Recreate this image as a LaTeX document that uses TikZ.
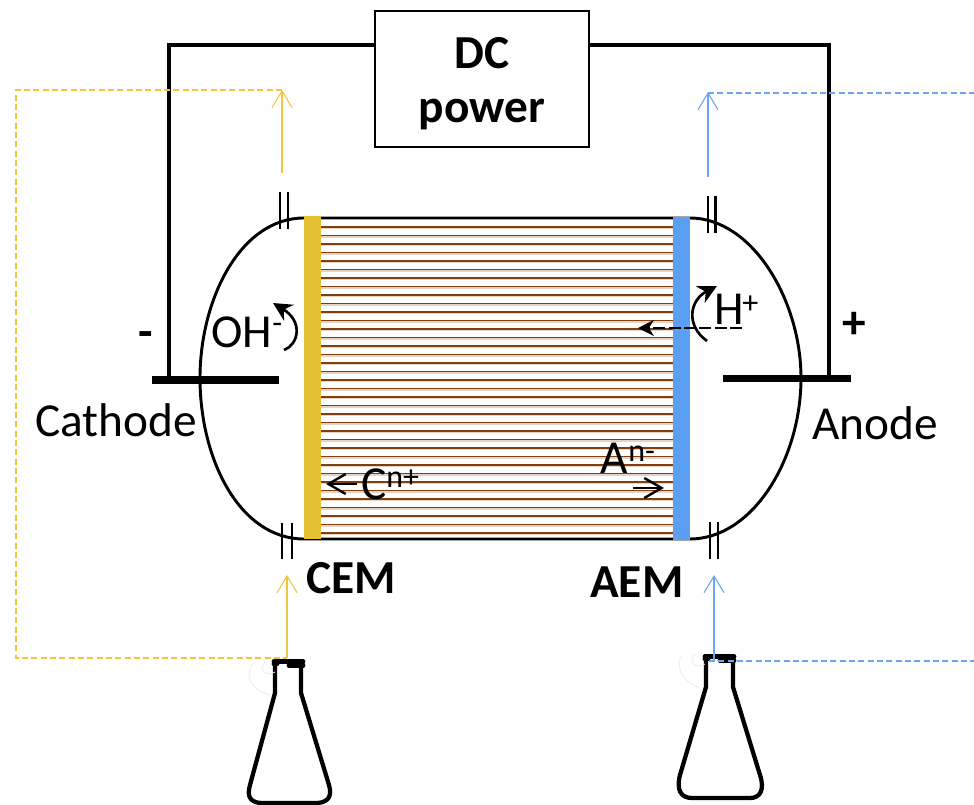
\documentclass[tikz,border=0pt]{standalone}
\usepackage{fontspec}
\setmainfont{Carlito}
\usetikzlibrary{arrows.meta}
\definecolor{cemc}{HTML}{E4C032}
\definecolor{aemc}{HTML}{5B9FF3}
\definecolor{arry}{HTML}{F0C63E}
\definecolor{arrb}{HTML}{6CA6F0}
\definecolor{brn}{HTML}{7F3F0F}
\definecolor{tan}{HTML}{E6D3C3}
\newcommand{\sz}[1]{\fontsize{#1}{#1}\selectfont}
\tikzset{
 x=0.75pt,y=-0.75pt,
 wire/.style={draw=black,line width=2.4pt},
 bar/.style={draw=black,line width=5.4pt},
 body/.style={draw=black,line width=2.2pt},
 tick/.style={draw=black,line width=2pt},
 flask/.style={draw=black,line width=3.2pt,line join=round},
 rim/.style={draw=black,line width=3.6pt,line cap=round},
 lab/.style={inner sep=0pt,anchor=base west,font=\sz{35.5}},
 blab/.style={inner sep=0pt,anchor=base west,font=\sz{35.5}\bfseries},
 flow/.style={line width=0.8pt,-{Straight Barb[length=12.5pt,width=15pt,line width=0.8pt]}},
 feed/.style={line width=0.8pt,dash pattern=on 4.5pt off 2.5pt},
 curl/.style={draw=black,line width=2pt,-{Stealth[length=14pt,width=14pt]}},
 ionarrow/.style={draw=black,line width=1.8pt,-{Straight Barb[length=13pt,width=15pt,line width=1.8pt]}},
}
\begin{document}
\begin{tikzpicture}
\useasboundingbox (0,0) rectangle (974,805);
% stripes
\foreach \k in {0,...,18}{
  \fill[tan] (321,{228+17*\k}) rectangle (673,{229.3+17*\k});
  \fill[brn] (321,{226+17*\k}) rectangle (673,{228.4+17*\k});
}
\foreach \k in {0,...,17}{
  \fill[tan] (321,{236+17*\k}) rectangle (673,{237.6+17*\k});
  \fill[brn] (321,{234.7+17*\k}) rectangle (673,{236+17*\k});
}
% cell body
\coordinate (tl) at (304,218); \coordinate (tr) at (690,218);
\coordinate (bl) at (304,539); \coordinate (br) at (690,539);
\path[body] (tl) -- (tr) .. controls (752,218) and (801,300) .. (801,378) .. controls (801,460) and (752,539) .. (br) -- (bl) .. controls (240,539) and (200,460) .. (200,378) .. controls (200,300) and (240,218) .. (tl);
% membranes
\fill[cemc] (304,216) rectangle (321,539);
\fill[aemc] (673,217) rectangle (690,540);
% ports
\draw[tick] (280,192)--(280,229) (288,192)--(288,229);
\draw[tick] (708,196)--(708,233) (715.5,196)--(715.5,233);
\draw[tick] (282,523)--(282,559) (292,523)--(292,559);
\draw[tick] (710,522)--(710,559) (718,522)--(718,559);
% DC power
\node[draw=black,line width=1.5pt,minimum width=160.5pt,minimum height=102pt,inner sep=0pt,align=center] (dc) at (482,79) {};
\node[inner sep=0pt,font=\sz{35.5}\bfseries] (dct) at (482,53) {DC};
\node[inner sep=0pt,font=\sz{35.5}\bfseries] (dcp) at (482,115) {power};
% electrodes
\coordinate (c1) at (152,380); \coordinate (c2) at (279,380);
\coordinate (a1) at (723,378.5); \coordinate (a2) at (851,378.5);
\draw[bar] (c1)--(c2);
\draw[bar] (a1)--(a2);
\coordinate (cw) at (169,380); \coordinate (aw) at (829,378);
\draw[wire] (dc.west |- 0,45) -| (cw);
\draw[wire] (dc.east |- 0,45) -| (aw);
% flasks
\path[flask] (275,664)--(275,693)--(250,785) .. controls (246,798) and (252,803) .. (262,803) -- (316,803) .. controls (326,803) and (333,798) .. (329,785) -- (301,693)--(301,664);
\draw[rim] (274,661.5)--(303,661.5) (274,664)--(277,664) (289,665.5)--(303,665.5);
\path[flask] (706,659)--(706,687)--(680,775) .. controls (676,790) and (681,798) .. (692,798) -- (750,798) .. controls (760,798) and (765,790) .. (760,775) -- (733,687)--(733,660);
\draw[rim] (705,656.5)--(734,656.5) (705,659)--(708,659) (720,660.5)--(734,660.5);
% watermark
\draw[black!8,line width=0.6pt] (252,665) .. controls (245,675) and (250,690) .. (270,695) (265,662) .. controls (258,668) and (265,678) .. (275,672);
\draw[black!8,line width=0.6pt] (682,655) .. controls (675,665) and (680,680) .. (700,688) (695,654) .. controls (688,660) and (695,670) .. (705,664);
% flows
\coordinate (y1) at (282,173); \coordinate (y2) at (282,90); \coordinate (y3) at (16,90); \coordinate (y4) at (16,658);
\coordinate (y5) at (287,658); \coordinate (y6) at (287,575);
\draw[arry,flow] (y1)--(y2);
\draw[arry,flow] (y5)--(y6);
\draw[arry,feed] (y2)--(y3)--(y4)--(y5);
\coordinate (b1) at (708,177); \coordinate (b2) at (708,92); \coordinate (b3) at (974,93);
\coordinate (b5) at (714,660); \coordinate (b6) at (714,575); \coordinate (b7) at (709,661); \coordinate (b8) at (974,661);
\draw[arrb,flow] (b1)--(b2);
\draw[arrb,flow] (b5)--(b6);
\draw[arrb,feed] (b2 |- b3)--(b3);
\draw[arrb,feed] (b7)--(b8);
% ion arrows
\coordinate (o1) at (284,350); \coordinate (o2) at (273,303);
\draw[curl] (o1) .. controls (298,345) and (304,322) .. (o2);
\coordinate (h1) at (707,341); \coordinate (h2) at (717,286);
\draw[curl] (h1) .. controls (685,325) and (690,300) .. (h2);
\coordinate (h3) at (742,328); \coordinate (h4) at (638,328);
\draw[black,line width=0.9pt,dash pattern=on 9pt off 2.5pt,-{Stealth[length=12pt,width=12pt]}] (h3)--(h4);
\coordinate (ca1) at (357,484); \coordinate (ca2) at (326,484);
\draw[ionarrow] (ca1)--(ca2);
\coordinate (an1) at (633,488); \coordinate (an2) at (664,488);
\draw[ionarrow] (an1)--(an2);
% labels
\node[lab] (lo) at (211,348) {OH};
\node[lab,font=\sz{24}] (los) at (272,334) {-};
\node[lab] (lh) at (714,325) {H};
\node[lab,font=\sz{24}] (lhs) at (742,314) {+};
\node[lab] (lc) at (361,499) {C};
\node[lab,font=\sz{24}] (lcs) at (386,487) {n+};
\node[lab] (la) at (600,473) {A};
\node[lab,font=\sz{24}] (las) at (628,461) {n-};
\node[lab] (lcat) at (35,436) {Cathode};
\node[lab] (lan) at (812,439) {Anode};
\node[blab] (lcem) at (306,593) {CEM};
\node[blab] (laem) at (590,597) {AEM};
\node[blab] (lm) at (138,348) {-};
\node[blab] (lp) at (842,339) {+};
\end{tikzpicture}
\end{document}
